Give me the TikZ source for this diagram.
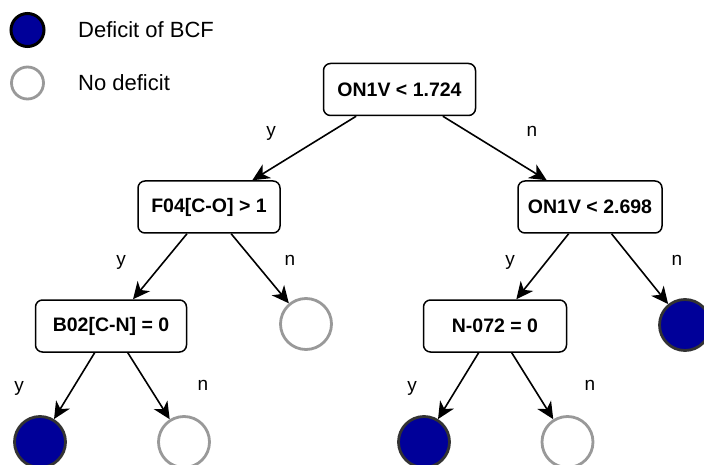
\documentclass[tikz,border=0pt]{standalone}
\usepackage{fontspec}
\setmainfont{Liberation Sans}
\usetikzlibrary{arrows.meta}
\definecolor{deficitblue}{RGB}{0,0,153}
\definecolor{leafgray}{RGB}{153,153,153}
\definecolor{leafdark}{RGB}{51,51,51}
\begin{document}
\begin{tikzpicture}[x=1pt,y=-1pt,
  testbox/.style={draw=black,line width=1.5pt,rounded corners=7pt,fill=white,
    minimum width=#1,minimum height=52pt,inner sep=0pt,
    font=\fontsize{19.5}{22}\selectfont\bfseries},
  testbox/.default=150pt,
  fullleaf/.style={circle,draw=leafdark,line width=2.8pt,fill=deficitblue,
    minimum size=51pt,inner sep=0pt},
  emptyleaf/.style={circle,draw=leafgray,line width=2.8pt,fill=white,
    minimum size=51pt,inner sep=0pt},
  branch/.style={draw=black,line width=1.6pt,
    -{Stealth[length=17pt,width=16pt,inset=5pt]}},
  edgelabel/.style={font=\fontsize{19}{21}\selectfont},
  legendtext/.style={font=\fontsize{22}{25}\selectfont,anchor=base west,inner sep=0pt}]
\useasboundingbox (0,0) rectangle (704,465);

% legend
\node[circle,draw=black,line width=3pt,fill=deficitblue,minimum size=33pt,inner sep=0pt] (keyfull) at (27.5,30) {};
\node[legendtext] (keyfulltext) at (78,38) {Deficit of BCF};
\node[circle,draw=leafgray,line width=2.8pt,fill=white,minimum size=32pt,inner sep=0pt] (keyempty) at (27.5,83) {};
\node[legendtext] (keyemptytext) at (78,91) {No deficit};

% decision nodes
\node[testbox=152pt] (root) at (399.5,89.5) {ON1V < 1.724};
\node[testbox=142pt] (f04) at (209,207) {F04[C-O] > 1};
\node[testbox=144pt] (on2) at (590,207) {ON1V < 2.698};
\node[testbox=151pt] (b02) at (111,326) {B02[C-N] = 0};
\node[testbox=143pt] (n072) at (495,326) {N-072 = 0};

% leaves
\node[emptyleaf] (leafA) at (306,324) {};
\node[fullleaf] (leafB) at (685,325) {};
\node[fullleaf] (leafC) at (40,442) {};
\node[emptyleaf] (leafD) at (184,442) {};
\node[fullleaf] (leafE) at (424,442) {};
\node[emptyleaf] (leafF) at (567.5,442) {};

% branches
\draw[branch] (root) -- (f04);
\draw[branch] (root) -- (on2);
\draw[branch] (f04) -- (b02);
\draw[branch] (f04) -- (leafA);
\draw[branch] (on2) -- (n072);
\draw[branch] (on2) -- (leafB);
\draw[branch] (b02) -- (leafC);
\draw[branch] (b02) -- (leafD);
\draw[branch] (n072) -- (leafE);
\draw[branch] (n072) -- (leafF);

% branch labels
\node[edgelabel] (ly1) at (271,133) {y};
\node[edgelabel] (ln1) at (532,131) {n};
\node[edgelabel] (ly2) at (121,262) {y};
\node[edgelabel] (ln2) at (290,260) {n};
\node[edgelabel] (ly3) at (510,262) {y};
\node[edgelabel] (ln3) at (677,260) {n};
\node[edgelabel] (ly4) at (19,388) {y};
\node[edgelabel] (ln4) at (203,385) {n};
\node[edgelabel] (ly5) at (412,388) {y};
\node[edgelabel] (ln5) at (590,385) {n};
\end{tikzpicture}
\end{document}
